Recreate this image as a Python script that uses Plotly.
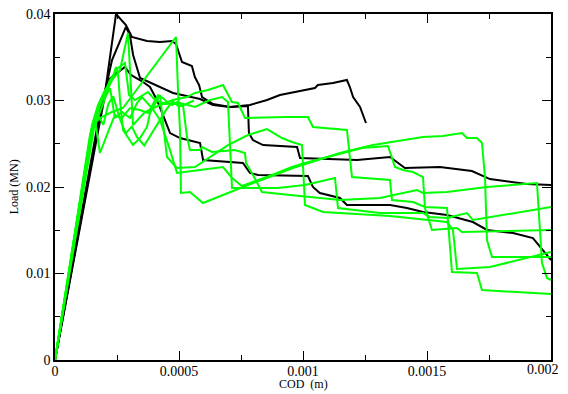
import plotly.graph_objects as go

# ---------------- data: COD (m) and Load (MN) ----------------
black1_x = [0, 1.976e-4, 2.46e-4, 2.86e-4, 3.10e-4, 3.71e-4, 4.23e-4, 4.72e-4, 4.88e-4, 5.12e-4,
            5.52e-4, 5.64e-4, 5.81e-4, 5.93e-4, 6.37e-4, 7.06e-4, 7.86e-4, 8.55e-4, 9.07e-4,
            1.048e-3, 1.060e-3, 1.121e-3, 1.177e-3, 1.189e-3, 1.202e-3, 1.230e-3, 1.254e-3]
black1_y = [0, 0.03006, 0.0400, 0.03873, 0.03734, 0.03688, 0.03676, 0.03688, 0.03653, 0.03445,
            0.03399, 0.03271, 0.03179, 0.0304, 0.02959, 0.02925, 0.02948, 0.03006, 0.03063,
            0.03144, 0.03179, 0.03202, 0.03237, 0.03156, 0.0304, 0.02925, 0.0274]

black2_x = [0, 1.94e-4, 2.30e-4, 2.86e-4, 3.02e-4, 3.15e-4, 3.43e-4, 4.11e-4, 4.76e-4, 5.85e-4,
            6.37e-4, 7.06e-4, 7.78e-4, 7.82e-4, 7.98e-4, 8.39e-4, 9.76e-4, 9.88e-4, 1.218e-3,
            1.351e-3, 1.411e-3, 1.552e-3, 1.681e-3, 1.754e-3, 1.903e-3, 2.0e-3]
black2_y = [0, 0.03006, 0.03468, 0.0385, 0.03757, 0.03526, 0.0326, 0.03167, 0.03087, 0.03017,
            0.02948, 0.02925, 0.02936, 0.02624, 0.02543, 0.02485, 0.02462, 0.02335, 0.02312,
            0.02347, 0.0222, 0.02231, 0.02185, 0.02092, 0.02035, 0.02023]

black3_x = [0, 1.81e-4, 2.14e-4, 2.54e-4, 2.82e-4, 3.06e-4, 3.55e-4, 3.83e-4, 4.11e-4, 4.40e-4,
            4.64e-4, 5.04e-4, 5.85e-4, 5.97e-4, 7.58e-4, 7.86e-4, 8.19e-4, 1.020e-3, 1.040e-3,
            1.068e-3, 1.149e-3, 1.177e-3, 1.351e-3, 1.419e-3, 1.484e-3, 1.581e-3, 1.685e-3,
            1.742e-3, 1.847e-3, 1.927e-3, 1.968e-3, 2.0e-3]
black3_y = [0, 0.02867, 0.03237, 0.03329, 0.03387, 0.03295, 0.03214, 0.03156, 0.03006, 0.02798,
            0.02624, 0.02566, 0.02509, 0.02312, 0.02277, 0.02162, 0.02139, 0.02127, 0.0200,
            0.01931, 0.01873, 0.01792, 0.01792, 0.01757, 0.01711, 0.01676, 0.01595,
            0.01503, 0.01468, 0.0141, 0.01272, 0.01156]

green1_x = [0, 1.532e-4, 1.814e-4, 2.298e-4, 2.742e-4, 3.427e-4, 4.234e-4, 4.879e-4, 4.96e-4,
            5.04e-4, 5.08e-4, 5.443e-4, 5.967e-4, 7.58e-4, 9.596e-4, 1.1491e-3, 1.2822e-3,
            1.4838e-3, 1.5644e-3, 1.641e-3, 1.6612e-3, 1.7015e-3, 1.7217e-3, 1.7338e-3,
            1.7418e-3, 1.762e-3, 2.0e-3]
green1_y = [0, 0.02717, 0.02798, 0.02867, 0.02913, 0.03179, 0.03491, 0.03734, 0.03121,
            0.02659, 0.01931, 0.01942, 0.01815, 0.0200, 0.0222, 0.02393, 0.02485,
            0.02578, 0.02589, 0.02624, 0.02566, 0.02566, 0.02509, 0.02115,
            0.01387, 0.01191, 0.01191]

green2_x = [0, 1.411e-4, 1.693e-4, 2.016e-4, 2.298e-4, 2.621e-4, 2.943e-4, 3.064e-4, 3.145e-4,
            3.629e-4, 4.234e-4, 4.758e-4, 5.322e-4, 5.645e-4, 6.169e-4, 6.774e-4, 7.137e-4,
            7.379e-4, 7.661e-4, 9.274e-4, 1.0201e-3, 1.0403e-3, 1.1773e-3, 1.1975e-3,
            1.3507e-3, 1.3588e-3, 1.4435e-3, 1.4918e-3, 1.5805e-3, 1.6007e-3, 1.7015e-3,
            1.7217e-3, 2.0e-3]
green2_y = [0, 0.02601, 0.0289, 0.03063, 0.03237, 0.03352, 0.0378, 0.03121, 0.02717,
            0.02867, 0.02948, 0.03006, 0.0304, 0.03087, 0.03121, 0.03179, 0.02982,
            0.02971, 0.02798, 0.02809, 0.02809, 0.02694, 0.02659, 0.02115,
            0.02081, 0.0185, 0.01826, 0.01769, 0.01757, 0.01017, 0.01006,
            0.00809, 0.00763]

green3_x = [0, 1.492e-4, 1.814e-4, 2.218e-4, 2.54e-4, 2.822e-4, 2.984e-4, 3.226e-4, 3.75e-4,
            4.032e-4, 4.435e-4, 5.04e-4, 5.645e-4, 6.25e-4, 6.733e-4, 6.975e-4, 7.137e-4,
            7.661e-4, 8.991e-4, 1.008e-3, 1.129e-3, 1.1411e-3, 1.3104e-3, 1.4838e-3,
            1.512e-3, 1.5805e-3, 1.6612e-3, 1.6854e-3, 1.8749e-3, 2.0e-3]
green3_y = [0, 0.02659, 0.02948, 0.03237, 0.03376, 0.03433, 0.03063, 0.03006, 0.03098,
            0.03006, 0.02959, 0.02971, 0.02925, 0.03006, 0.0304, 0.02982, 0.01988,
            0.01988, 0.01988, 0.02023, 0.02104, 0.01757, 0.01699, 0.01699,
            0.01653, 0.01642, 0.01699, 0.01618, 0.01711, 0.01769]

green4_x = [0, 1.492e-4, 1.734e-4, 2.016e-4, 2.298e-4, 2.46e-4, 2.54e-4, 2.621e-4, 2.742e-4,
            3.145e-4, 3.427e-4, 3.709e-4, 3.83e-4, 4.234e-4, 4.435e-4, 4.516e-4, 4.919e-4,
            5.645e-4, 6.975e-4, 7.782e-4, 8.548e-4, 9.153e-4, 9.556e-4, 9.959e-4, 1.008e-3,
            1.0806e-3, 1.3507e-3, 1.5805e-3, 1.6047e-3, 1.6209e-3, 1.7539e-3, 2.0e-3]
green4_y = [0, 0.02717, 0.02948, 0.03121, 0.03237, 0.03387, 0.03329, 0.03006, 0.02659,
            0.02485, 0.02566, 0.02694, 0.02855, 0.03063, 0.02543, 0.02347, 0.0222,
            0.02231, 0.02485, 0.02601, 0.0267, 0.02566, 0.0252, 0.02485, 0.01792,
            0.01711, 0.01665, 0.01595, 0.01503, 0.01052, 0.01075, 0.01248]

green5_x = [0, 1.572e-4, 1.814e-4, 2.056e-4, 2.218e-4, 2.419e-4, 2.701e-4, 3.024e-4, 3.306e-4,
            3.508e-4, 3.911e-4, 4.234e-4, 4.637e-4, 4.919e-4, 5.846e-4, 6.774e-4, 7.137e-4,
            7.54e-4, 8.749e-4, 9.556e-4, 1.008e-3, 1.2378e-3, 1.3427e-3, 1.3709e-3, 1.4031e-3,
            1.4435e-3, 1.4838e-3, 1.4918e-3, 1.5201e-3, 1.6209e-3, 1.641e-3, 2.0e-3]
green5_y = [0, 0.02682, 0.02867, 0.03052, 0.03144, 0.02798, 0.02867, 0.02798, 0.02971,
            0.0304, 0.02913, 0.02774, 0.02428, 0.02162, 0.02196, 0.02231, 0.02104,
            0.02011, 0.02139, 0.02231, 0.02277, 0.02451, 0.02474, 0.02231, 0.02196,
            0.02173, 0.02115, 0.01757, 0.01503, 0.01526, 0.0148, 0.01503]

green6_x = [0, 1.411e-4, 1.613e-4, 1.814e-4, 2.218e-4, 2.419e-4, 2.701e-4, 3.024e-4, 3.427e-4,
            3.75e-4, 4.153e-4, 4.355e-4, 4.556e-4, 4.717e-4, 4.919e-4, 5.161e-4, 5.322e-4,
            5.443e-4, 5.846e-4, 5.927e-4, 6.33e-4, 7.258e-4, 7.661e-4, 7.701e-4, 7.983e-4,
            8.346e-4, 9.878e-4, 1.1491e-3, 1.3104e-3, 1.4596e-3, 1.4838e-3, 1.5805e-3,
            1.7418e-3, 1.9434e-3, 1.9555e-3, 1.9636e-3, 1.9838e-3, 2.0e-3]
green6_y = [0, 0.02543, 0.02774, 0.02393, 0.02694, 0.02832, 0.02798, 0.02913, 0.0289,
            0.02855, 0.03063, 0.03029, 0.02971, 0.02948, 0.02982, 0.02948, 0.02578,
            0.02428, 0.02428, 0.02462, 0.02405, 0.02428, 0.02393, 0.02277, 0.02139,
            0.01942, 0.01896, 0.0185, 0.01873, 0.01965, 0.01931, 0.01942,
            0.0200, 0.02046, 0.01503, 0.01121, 0.00948, 0.00925]

green7_x = [0, 1.45e-4, 1.70e-4, 1.95e-4, 2.15e-4, 2.35e-4, 2.60e-4, 2.85e-4, 3.10e-4,
            3.30e-4, 3.60e-4, 3.90e-4, 4.20e-4, 4.50e-4, 4.75e-4, 5.00e-4, 5.30e-4, 5.60e-4]
green7_y = [0, 0.0262, 0.0285, 0.0272, 0.0296, 0.0305, 0.0280, 0.0262, 0.0270,
            0.0258, 0.0248, 0.0262, 0.0276, 0.0290, 0.0299, 0.0293, 0.0296, 0.0300]

black_series = [(black1_x, black1_y), (black2_x, black2_y), (black3_x, black3_y)]
green_series = [(green1_x, green1_y), (green2_x, green2_y), (green3_x, green3_y),
                (green4_x, green4_y), (green5_x, green5_y), (green6_x, green6_y),
                (green7_x, green7_y)]

x_ticks = [0, 0.0005, 0.001, 0.0015, 0.002]
x_tick_labels = ["0", "0.0005", "0.001", "0.0015", "0.002"]
y_ticks = [0, 0.01, 0.02, 0.03, 0.04]
y_tick_labels = ["0", "0.01", "0.02", "0.03", "0.04"]
x_title = "COD  (m)"
y_title = "Load (MN)"

# ---------------- figure ----------------
fig = go.Figure()
for xs, ys in black_series:
    fig.add_trace(go.Scatter(x=xs, y=ys, mode="lines",
                             line=dict(color="#000000", width=2), showlegend=False))
for xs, ys in green_series:
    fig.add_trace(go.Scatter(x=xs, y=ys, mode="lines",
                             line=dict(color="#00ff00", width=2), showlegend=False))

font_family = "Liberation Serif"
tick_font = dict(family=font_family, size=14, color="#000000")
axis_common = dict(showgrid=False, zeroline=False, showline=True, linecolor="#000000",
                   linewidth=1.5, mirror="allticks", ticks="inside", ticklen=9,
                   tickwidth=1.2, tickcolor="#000000", automargin=False,
                   ticklabeloverflow="allow", tickfont=tick_font)

# last x label is drawn as an annotation so it stays fully inside the picture
x_text_shown = x_tick_labels[:-1] + [""]
fig.update_xaxes(range=[0, 0.002], tickmode="array", tickvals=x_ticks, ticktext=x_text_shown,
                 ticklabelstandoff=-3,
                 minor=dict(ticks="inside", ticklen=5, dtick=0.00025, tickcolor="#000000",
                            tickwidth=1.2, showgrid=False),
                 **axis_common)
fig.update_yaxes(range=[0, 0.04], tickmode="array", tickvals=y_ticks, ticktext=y_tick_labels,
                 minor=dict(ticks="inside", ticklen=5, dtick=0.005, tickcolor="#000000",
                            tickwidth=1.2, showgrid=False),
                 **axis_common)

fig.add_annotation(text=x_tick_labels[-1], xref="x", yref="paper", x=x_ticks[-1], y=-0.027,
                   xanchor="right", yanchor="middle", xshift=9, showarrow=False,
                   borderpad=0, font=tick_font)
fig.add_annotation(text=x_title, xref="paper", yref="paper", x=0.5, y=-0.070,
                   xanchor="center", yanchor="middle", showarrow=False,
                   font=dict(family=font_family, size=12, color="#000000"))
fig.add_annotation(text=y_title, xref="paper", yref="paper", x=-0.082, y=0.5,
                   xanchor="center", yanchor="middle", showarrow=False, textangle=-90,
                   font=dict(family=font_family, size=12, color="#000000"))

fig.update_layout(width=560, height=386, margin=dict(l=47, r=17, t=6, b=34),
                  plot_bgcolor="#ffffff", paper_bgcolor="#ffffff")

fig.write_html("out.html")
